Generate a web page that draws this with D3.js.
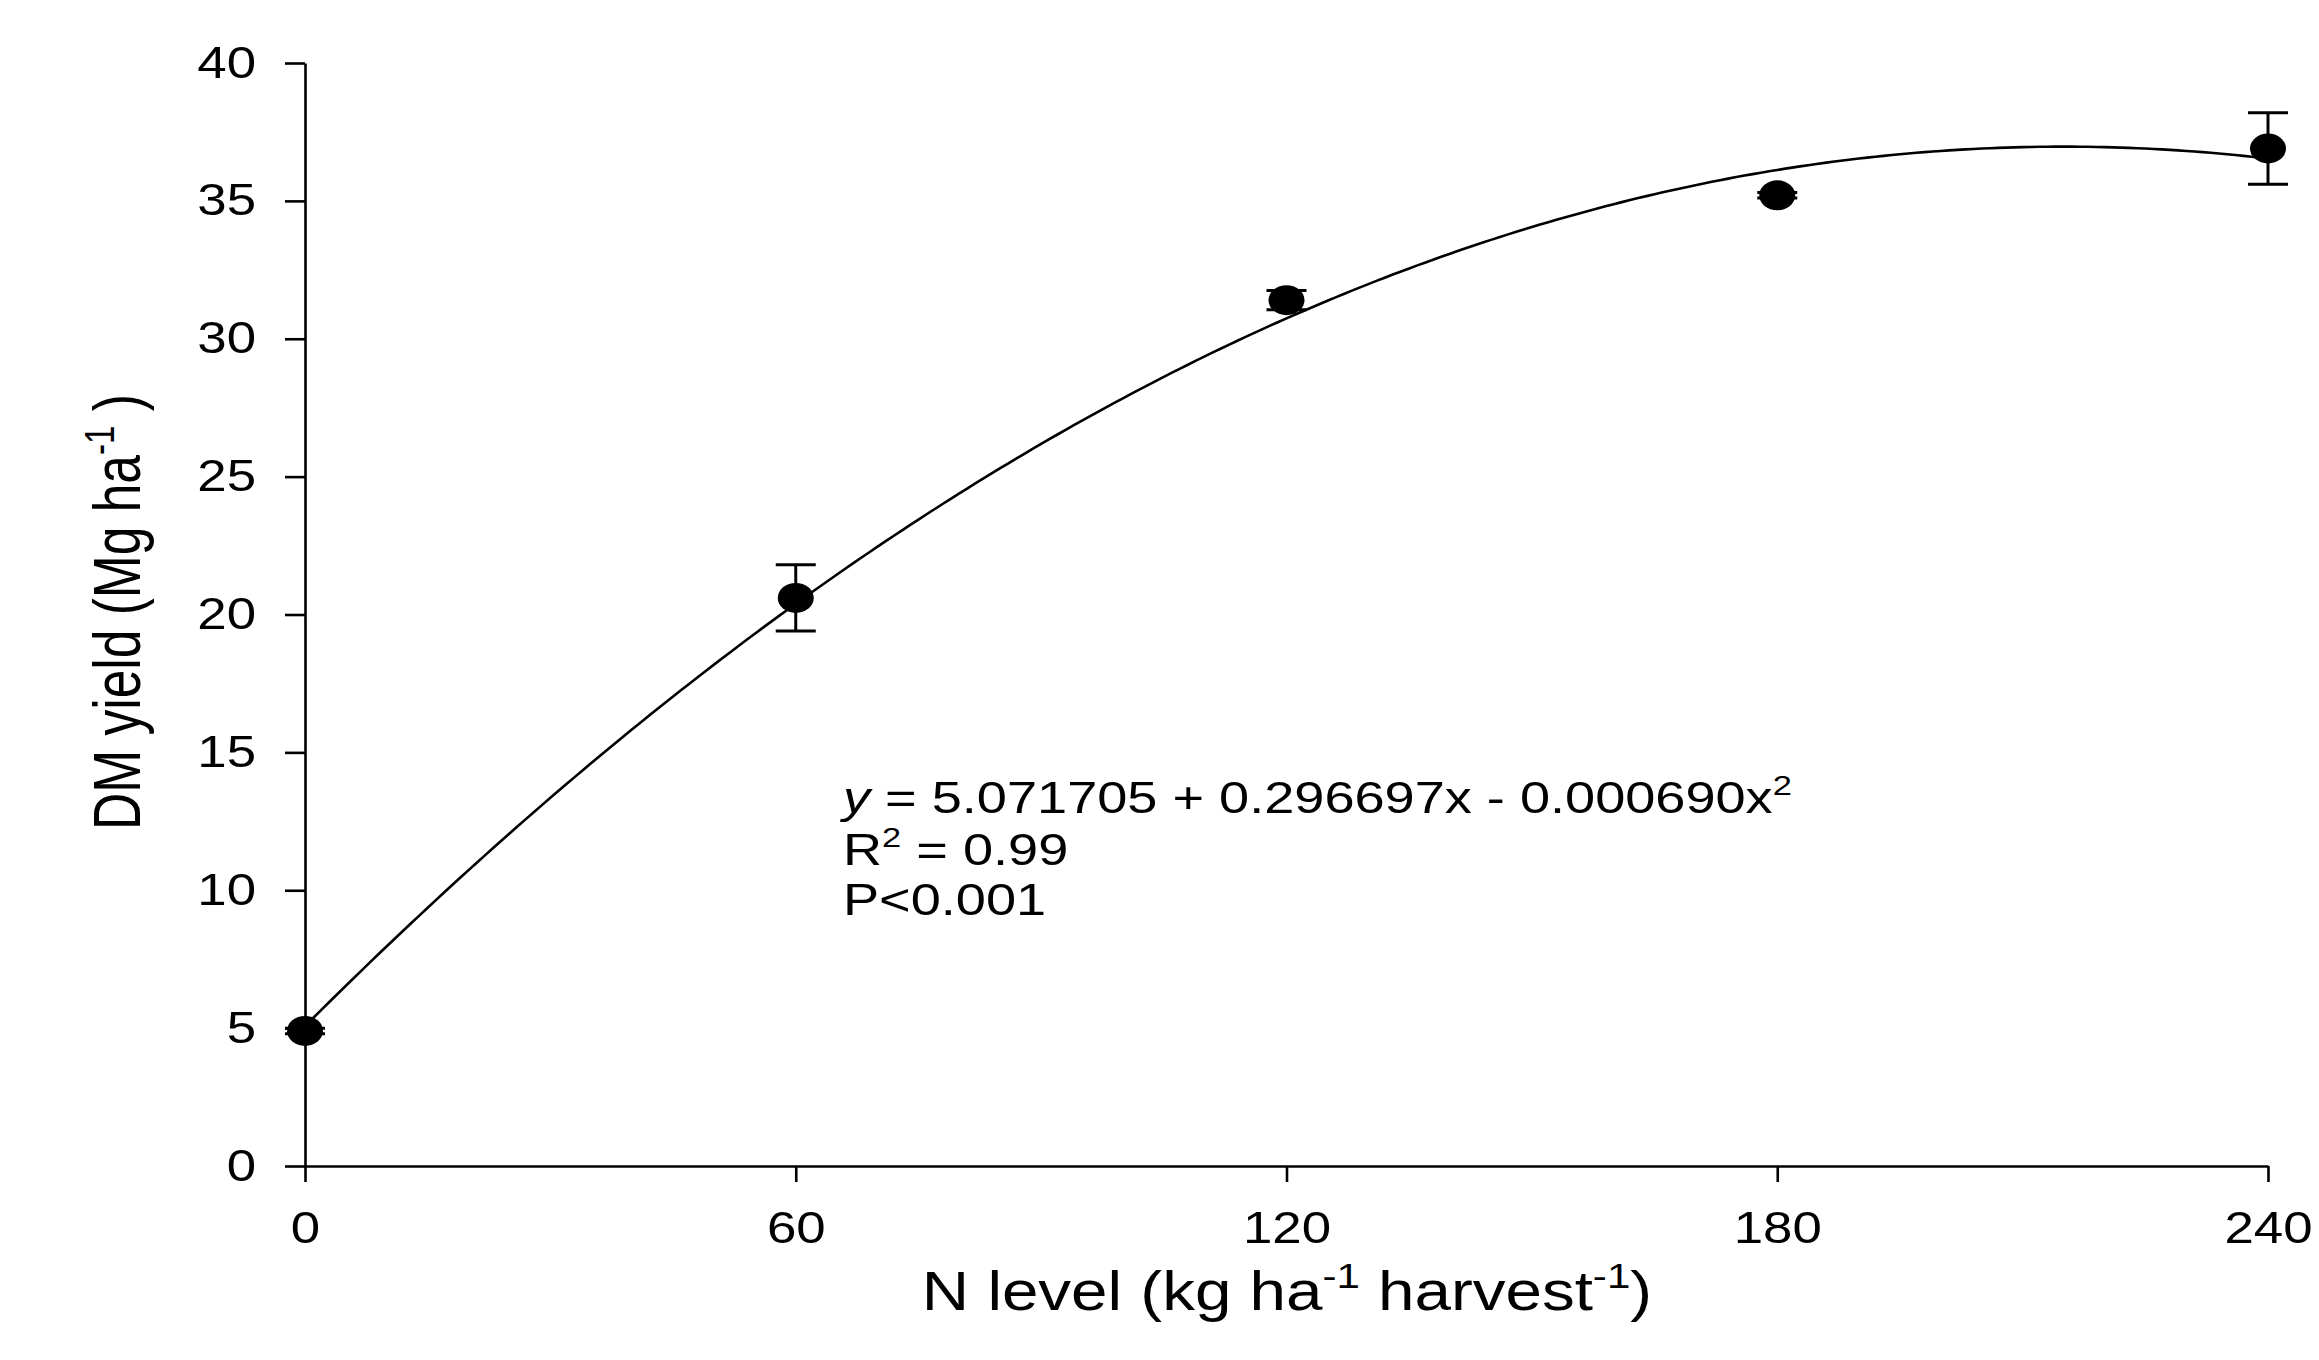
<!DOCTYPE html>
<html>
<head>
<meta charset="utf-8">
<script src="https://cdn.jsdelivr.net/npm/d3@7"></script>
<style>
  html, body { margin: 0; padding: 0; background: #fff; }
  svg { display: block; font-family: "Liberation Sans", Arial, sans-serif; }
</style>
</head>
<body>
<svg id="chart" width="2319" height="1360"></svg>
<script>
// N level (kg ha-1 harvest-1)
const nLevels = [0, 60, 120, 180, 240];
// DM yield means and error (Mg ha-1)
const dmYield = [4.9, 20.6, 31.4, 35.2, 36.9];
const dmError = [0.1, 1.2, 0.35, 0.1, 1.3];
// quadratic fit y = a + b x + c x^2
const fitCoef = [5.071705, 0.296697, -0.000690];
const xTicks = [0, 60, 120, 180, 240];
const yTicks = [0, 5, 10, 15, 20, 25, 30, 35, 40];

const svg = d3.select("#chart");
const x = d3.scaleLinear().domain([0, 240]).range([305, 2268]);
const y = d3.scaleLinear().domain([0, 40]).range([1166, 63]);

// stretch tick labels sideways, like the original figure
const widen = (sel, f) =>
  sel.each(function () {
    const w = this.getComputedTextLength();
    d3.select(this).attr("textLength", w * f).attr("lengthAdjust", "spacingAndGlyphs");
  });

const xAxis = svg.append("g")
  .attr("transform", `translate(0,${y(0)})`)
  .call(d3.axisBottom(x).tickValues(xTicks).tickSize(16).tickSizeOuter(0).tickPadding(30));
const yAxis = svg.append("g")
  .attr("transform", `translate(${x(0)},0)`)
  .call(d3.axisLeft(y).tickValues(yTicks).tickSize(20).tickSizeOuter(0).tickPadding(29));

for (const ax of [xAxis, yAxis]) {
  ax.selectAll("path, line").attr("stroke", "#000").attr("stroke-width", 2.6);
  ax.selectAll("text").attr("fill", "#000").attr("font-size", 44).call(widen, 1.2);
}

// fitted curve
const fit = (v) => fitCoef[0] + fitCoef[1] * v + fitCoef[2] * v * v;
const curveX = d3.range(0, 240.5, 1);
svg.append("path")
  .attr("fill", "none")
  .attr("stroke", "#000")
  .attr("stroke-width", 2.6)
  .attr("d", d3.line().x((d) => x(d)).y((d) => y(fit(d)))(curveX));

// error bars
const pts = nLevels.map((n, i) => ({ n, v: dmYield[i], e: dmError[i] }));
const bars = svg.append("g").attr("stroke", "#000").attr("stroke-width", 3);
bars.selectAll("line.stem").data(pts).join("line").attr("class", "stem")
  .attr("x1", (d) => x(d.n)).attr("x2", (d) => x(d.n))
  .attr("y1", (d) => y(d.v + d.e)).attr("y2", (d) => y(d.v - d.e));
for (const s of [1, -1]) {
  bars.selectAll(`line.cap${s}`).data(pts).join("line").attr("class", `cap${s}`)
    .attr("x1", (d) => x(d.n) - 20).attr("x2", (d) => x(d.n) + 20)
    .attr("y1", (d) => y(d.v + s * d.e)).attr("y2", (d) => y(d.v + s * d.e));
}

// markers
svg.append("g").selectAll("ellipse").data(pts).join("ellipse")
  .attr("cx", (d) => x(d.n)).attr("cy", (d) => y(d.v))
  .attr("rx", 18).attr("ry", 15).attr("fill", "#000");

// equation
const eq = svg.append("g").attr("font-size", 44).attr("fill", "#000");
const l1 = eq.append("text").attr("transform", "translate(843,813) scale(1.23,1)");
l1.append("tspan").attr("font-style", "italic").text("y");
l1.append("tspan").text(" = 5.071705 + 0.296697x - 0.000690x");
l1.append("tspan").attr("font-size", 28).attr("dy", -18).text("2");
const l2 = eq.append("text").attr("transform", "translate(843,865) scale(1.23,1)");
l2.append("tspan").text("R");
l2.append("tspan").attr("font-size", 28).attr("dy", -18).text("2");
l2.append("tspan").attr("dy", 18).text(" = 0.99");
eq.append("text").attr("transform", "translate(843,915) scale(1.23,1)").text("P<0.001");

// axis titles
const xt = svg.append("text")
  .attr("transform", "translate(1287,1310) scale(1.17,1)")
  .attr("text-anchor", "middle").attr("font-size", 56).attr("fill", "#000");
xt.append("tspan").text("N level (kg ha");
xt.append("tspan").attr("font-size", 36).attr("dy", -22).text("-1");
xt.append("tspan").attr("dy", 22).text(" harvest");
xt.append("tspan").attr("font-size", 36).attr("dy", -22).text("-1");
xt.append("tspan").attr("dy", 22).text(")");

const yt = svg.append("text")
  .attr("transform", "translate(140,612) rotate(-90) scale(0.92,1.2)")
  .attr("text-anchor", "middle").attr("font-size", 56).attr("fill", "#000");
yt.append("tspan").text("DM yield (Mg ha");
yt.append("tspan").attr("font-size", 36).attr("dy", -22).text("-1");
yt.append("tspan").attr("dy", 22).text(" )");
</script>
</body>
</html>
